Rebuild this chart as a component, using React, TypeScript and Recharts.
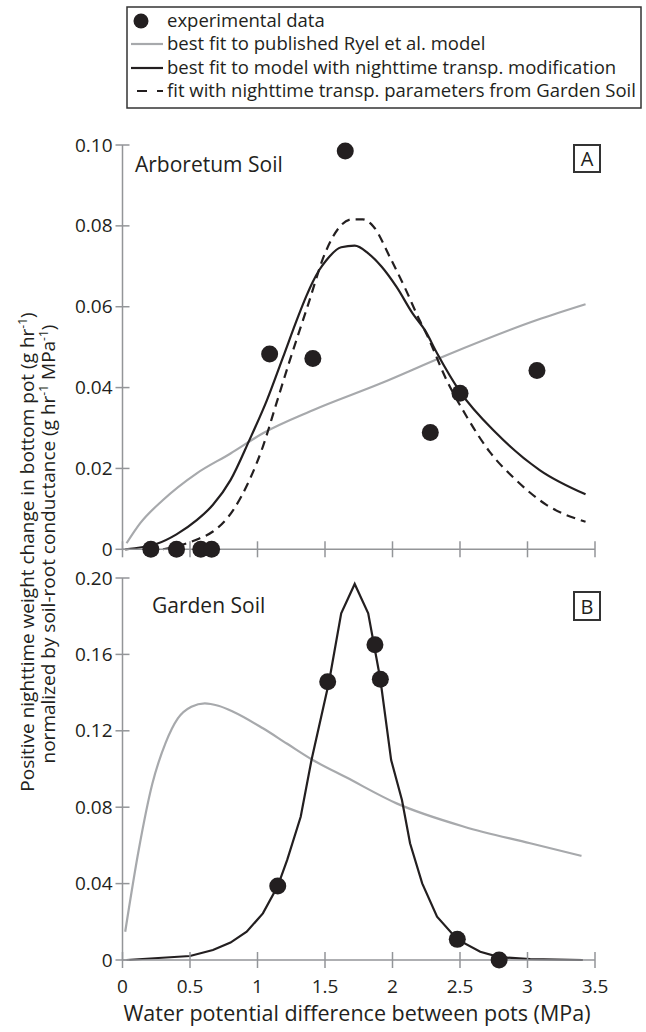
import React from 'react'
import { ComposedChart, Line, Scatter, XAxis, YAxis } from 'recharts'

// shared x axis
const xTicks = [0, 0.5, 1, 1.5, 2, 2.5, 3, 3.5]

// Panel A - Arboretum Soil
const arbTicks = [0, 0.02, 0.04, 0.06, 0.08, 0.1]
const arbX = [0.21, 0.4, 0.58, 0.66, 1.09, 1.41, 1.65, 2.28, 2.5, 3.07]
const arbY = [0, 0, 0, 0, 0.0483, 0.0472, 0.0985, 0.0289, 0.0386, 0.0442]

const arbRyelX = [0.03, 0.13, 0.3, 0.55, 0.8, 1.04, 1.41, 1.91, 2.4, 3.07, 3.43]
const arbRyelY = [0.0015, 0.0064, 0.0122, 0.0188, 0.0237, 0.0287, 0.0344, 0.041, 0.048, 0.0567, 0.0606]

const arbModX = [0.02, 0.25, 0.4, 0.55, 0.67, 0.8, 0.94, 1.07, 1.19, 1.3, 1.36, 1.41, 1.46, 1.51, 1.62, 1.72, 1.82, 1.92, 2.03, 2.15, 2.24, 2.33, 2.5, 2.77, 3.09, 3.43]
const arbModY = [0, 0.0013, 0.0037, 0.0072, 0.011, 0.0171, 0.027, 0.0369, 0.0476, 0.0575, 0.0625, 0.0662, 0.0692, 0.0715, 0.0747, 0.0751, 0.0732, 0.0699, 0.0649, 0.0583, 0.0542, 0.0485, 0.039, 0.0287, 0.0196, 0.0136]

const arbGardenX = [0.3, 0.45, 0.57, 0.67, 0.82, 0.94, 1.04, 1.14, 1.24, 1.37, 1.5, 1.61, 1.7, 1.78, 1.86, 1.98, 2.1, 2.2, 2.25, 2.4, 2.55, 2.72, 2.9, 3.14, 3.43]
const arbGardenY = [0, 0.0012, 0.0027, 0.0044, 0.0097, 0.0171, 0.0254, 0.0361, 0.0468, 0.06, 0.0732, 0.0798, 0.0816, 0.0816, 0.0798, 0.0723, 0.0641, 0.0567, 0.0534, 0.0419, 0.0328, 0.0241, 0.0176, 0.011, 0.0068]

// Panel B - Garden Soil
const gardenTicks = [0, 0.04, 0.08, 0.12, 0.16, 0.2]
const gardenX = [1.15, 1.52, 1.87, 1.91, 2.48, 2.79]
const gardenY = [0.0387, 0.1457, 0.165, 0.147, 0.0108, 0]

const gardenRyelX = [0.02, 0.12, 0.22, 0.32, 0.41, 0.51, 0.61, 0.71, 0.82, 1.04, 1.22, 1.41, 1.66, 2.03, 2.53, 3.02, 3.4]
const gardenRyelY = [0.0148, 0.0576, 0.092, 0.1138, 0.1265, 0.1326, 0.1344, 0.1331, 0.13, 0.1213, 0.1132, 0.1047, 0.0955, 0.082, 0.0698, 0.0611, 0.0545]

const gardenModX = [0.03, 0.5, 0.67, 0.8, 0.92, 1.04, 1.15, 1.22, 1.32, 1.4, 1.53, 1.62, 1.72, 1.82, 1.91, 1.99, 2.07, 2.13, 2.22, 2.33, 2.48, 2.65, 2.79, 3.02, 3.41]
const gardenModY = [0, 0.0021, 0.0052, 0.0091, 0.0148, 0.0244, 0.0387, 0.0524, 0.075, 0.1047, 0.1457, 0.1815, 0.1969, 0.1815, 0.147, 0.1047, 0.0838, 0.0611, 0.0401, 0.0227, 0.0108, 0.0043, 0.0015, 0.0005, 0]

const INK = '#231f20'
const GREY = '#a7a9ac'
const AXIS = '#939598'
const FONT = '"Open Sans", sans-serif'

const pts = (xs: number[], ys: number[]) => xs.map((x, i) => ({ x, y: ys[i] }))
const fmtY = (v: number) => (v === 0 ? '0' : v.toFixed(2))
const fmtX = (v: number) => String(v)

function YTick({ x, y, payload }: any) {
  return (
    <g>
      <line x1={x - 7} x2={x + 7} y1={y} y2={y} stroke={AXIS} strokeWidth={1.5} />
      <text x={x - 10} y={y} dy={6.5} textAnchor="end" fontSize={19} fontFamily={FONT} fill={INK}>
        {fmtY(payload.value)}
      </text>
    </g>
  )
}

const makeXTick = (labels: boolean) => ({ x, y, payload }: any) => (
  <g>
    <line x1={x} x2={x} y1={y - 8} y2={y + 8} stroke={AXIS} strokeWidth={1.5} />
    {labels && (
      <text x={x} y={y + 33} textAnchor="middle" fontSize={19} fontFamily={FONT} fill={INK}>
        {fmtX(payload.value)}
      </text>
    )}
  </g>
)

const Dot = (props: any) => <circle cx={props.cx} cy={props.cy} r={8.5} fill={INK} />

interface Fit { data: { x: number; y: number }[]; color: string; dash?: string; curve?: 'linear' | 'monotone' }

interface PanelProps {
  top: number
  height: number
  margin: { top: number; right: number; bottom: number; left: number }
  xAxisHeight: number
  yMax: number
  yTicks: number[]
  showXLabels: boolean
  fits: Fit[]
  dots: { x: number; y: number }[]
}

function Panel({ top, height, margin, xAxisHeight, yMax, yTicks, showXLabels, fits, dots }: PanelProps) {
  return (
    <div style={{ position: 'absolute', left: 0, top }}>
      <ComposedChart width={646} height={height} margin={margin}>
        <XAxis
          type="number" dataKey="x" domain={[0, 3.5]} ticks={xTicks} height={xAxisHeight}
          axisLine={{ stroke: AXIS, strokeWidth: 1.5 }} tickLine={false} tickSize={0} tickMargin={0}
          tick={makeXTick(showXLabels)} interval={0}
        />
        <YAxis
          type="number" dataKey="y" domain={[0, yMax]} ticks={yTicks} width={60}
          axisLine={{ stroke: AXIS, strokeWidth: 1.5 }} tickLine={false} tickSize={0} tickMargin={0}
          tick={YTick} interval={0}
        />
        {fits.map((f, i) => (
          <Line
            key={i} data={f.data} dataKey="y" type={f.curve ?? 'monotone'} stroke={f.color} strokeWidth={2.2}
            strokeDasharray={f.dash} dot={false} activeDot={false} isAnimationActive={false}
          />
        ))}
        <Scatter data={dots} dataKey="y" shape={Dot} isAnimationActive={false} />
      </ComposedChart>
    </div>
  )
}

function Overlay() {
  const t = { fontFamily: FONT, fill: INK }
  return (
    <svg width={646} height={1032} style={{ position: 'absolute', left: 0, top: 0, pointerEvents: 'none' }}>
      {/* legend */}
      <rect x={127} y={7} width={514} height={101} fill="none" stroke="#333" strokeWidth={1.5} />
      <circle cx={141} cy={21} r={7.5} fill={INK} />
      <line x1={131} x2={163} y1={44} y2={44} stroke={GREY} strokeWidth={2.2} />
      <line x1={131} x2={163} y1={68} y2={68} stroke={INK} strokeWidth={2.2} />
      <line x1={137} x2={163} y1={91} y2={91} stroke={INK} strokeWidth={2.2} strokeDasharray="10 10" />
      <g fontSize={18.5} {...t}>
        <text x={167} y={27}>experimental data</text>
        <text x={167} y={50}>best fit to published Ryel et al. model</text>
        <text x={167} y={74}>best fit to model with nighttime transp. modification</text>
        <text x={167} y={97}>fit with nighttime transp. parameters from Garden Soil</text>
      </g>

      {/* panel titles and letters */}
      <text x={135} y={172} fontSize={21} {...t}>Arboretum Soil</text>
      <text x={152} y={613} fontSize={21} {...t}>Garden Soil</text>
      <rect x={574} y={145} width={26} height={27} fill="none" stroke="#333" strokeWidth={2} />
      <text x={587} y={166} fontSize={20} textAnchor="middle" {...t}>A</text>
      <rect x={574} y={592} width={26} height={28} fill="none" stroke="#333" strokeWidth={2} />
      <text x={587} y={614} fontSize={20} textAnchor="middle" {...t}>B</text>

      {/* y axis title */}
      <g transform="translate(34,552) rotate(-90)">
        <text x={0} y={0} fontSize={19} textAnchor="middle" {...t}>
          Positive nighttime weight change in bottom pot (g hr
          <tspan dy={-7} fontSize={12}>-1</tspan>
          <tspan dy={7}>)</tspan>
        </text>
      </g>
      <g transform="translate(55,544) rotate(-90)">
        <text x={0} y={0} fontSize={19} textAnchor="middle" {...t}>
          normalized by soil-root conductance (g hr
          <tspan dy={-7} fontSize={12}>-1</tspan>
          <tspan dy={7}> MPa</tspan>
          <tspan dy={-7} fontSize={12}>-1</tspan>
          <tspan dy={7}>)</tspan>
        </text>
      </g>

      {/* x axis title */}
      <text x={357} y={1021} fontSize={21.5} textAnchor="middle" {...t}>
        Water potential difference between pots (MPa)
      </text>
    </svg>
  )
}

export default function App() {
  return (
    <div style={{ position: 'absolute', left: 0, top: 0, width: 646, height: 1032, background: '#fff', fontFamily: FONT }}>
      <Panel
        top={120} height={450} xAxisHeight={20}
        margin={{ top: 25, right: 51, bottom: 0.7, left: 62.5 }}
        yMax={0.1} yTicks={arbTicks} showXLabels={false}
        fits={[
          { data: pts(arbRyelX, arbRyelY), color: GREY },
          { data: pts(arbGardenX, arbGardenY), color: INK, dash: '9 6' },
          { data: pts(arbModX, arbModY), color: INK },
        ]}
        dots={pts(arbX, arbY)}
      />
      <Panel
        top={560} height={472} xAxisHeight={50}
        margin={{ top: 18, right: 51, bottom: 22, left: 62.5 }}
        yMax={0.2} yTicks={gardenTicks} showXLabels
        fits={[
          { data: pts(gardenRyelX, gardenRyelY), color: GREY },
          { data: pts(gardenModX, gardenModY), color: INK, curve: 'linear' },
        ]}
        dots={pts(gardenX, gardenY)}
      />
      <Overlay />
    </div>
  )
}
